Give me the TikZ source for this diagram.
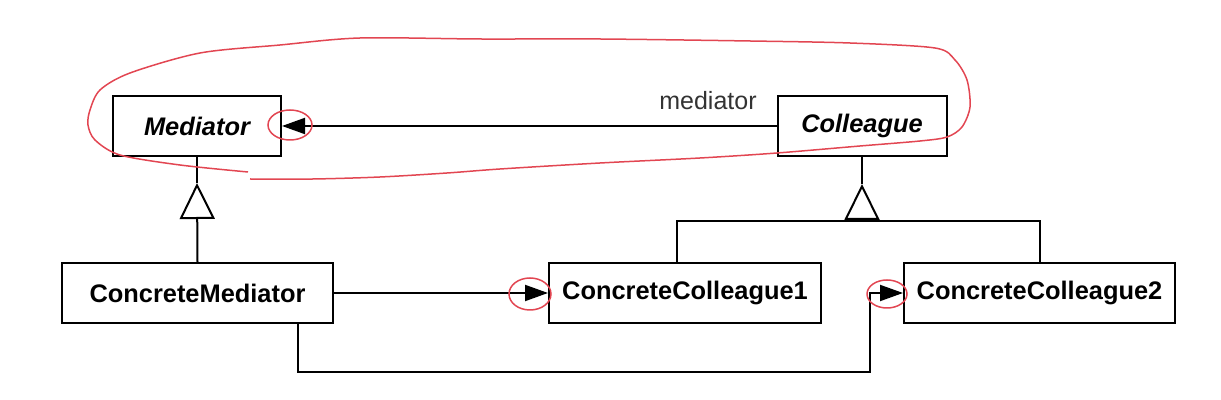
\documentclass[tikz,border=0pt]{standalone}
\usepackage{fontspec}
\setmainfont{Liberation Sans}
\usetikzlibrary{arrows.meta}
\definecolor{penred}{RGB}{226,70,82}

\begin{document}
\begin{tikzpicture}[x=0.5pt,y=-0.5pt,
  cls/.style={draw,line width=1pt,inner sep=0pt,minimum height=30pt,font=\fontsize{12.7}{15}\selectfont\bfseries},
  abs/.style={cls,font=\fontsize{12.7}{15}\selectfont\bfseries\itshape},
  has/.style={line width=1pt,-{Triangle[length=11.5pt,width=8pt]}},
  isa/.style={line width=1pt,-{Triangle[open,length=18pt,width=17.5pt]}},
  pen/.style={penred,line width=0.75pt}]
\useasboundingbox (0,0) rectangle (1221,400);
\node[abs,minimum width=84pt] (med) at (197,126) {Mediator};
\node[abs,minimum width=84.5pt] (col) at (862,126) {Colleague};
\node[cls,minimum width=135.5pt] (cmed) at (197.5,293) {ConcreteMediator};
\node[cls,minimum width=136pt] (cc1) at (685,293) {ConcreteColleague1};
\node[cls,minimum width=135.5pt] (cc2) at (1039.5,293) {ConcreteColleague2};
\node[font=\fontsize{12.5}{15}\selectfont,text=black!80] (role) at (708,101) {mediator};
\coordinate (medtip) at (197,183);
\coordinate (coltip) at (862,184);
\coordinate (colbar) at (862,221);
\coordinate (loopcorner) at (870,372);
% associations
\draw[has] (col.west) -- (med.east);
\draw[has] (cmed.east) -- (cc1.west);
\draw[has] ([xshift=50.25pt]cmed.south) |- (loopcorner) |- (cc2.west);
% inheritance
\draw[line width=1pt] (med.south) -- (medtip);
\draw[isa] (cmed.north) -- (medtip);
\draw[line width=1pt] (col.south) -- (coltip);
\draw[isa] (colbar) -- (coltip);
\draw[line width=1pt] ([xshift=-4pt]cc1.north) |- (colbar) -| (cc2.north);
% pen marks
\draw[pen] plot[smooth] coordinates {(250,179) (313,179) (380,177) (447,173) (500,169)
  (600,163) (700,158) (777,153) (860,146) (920,141) (947,137) (962,127) (970,107)
  (967,80) (955,60) (935,48) (850,43) (750,41) (600,39) (480,39) (360,38) (280,45)
  (200,53) (130,73) (100,90) (90,110) (88,125) (95,140) (120,155) (180,165) (248,172)};
\draw[pen] (290,125) ellipse [x radius=22,y radius=15];
\draw[pen] (530,294) ellipse [x radius=21,y radius=16];
\draw[pen] (887,294) ellipse [x radius=20,y radius=14];
\end{tikzpicture}
\end{document}
